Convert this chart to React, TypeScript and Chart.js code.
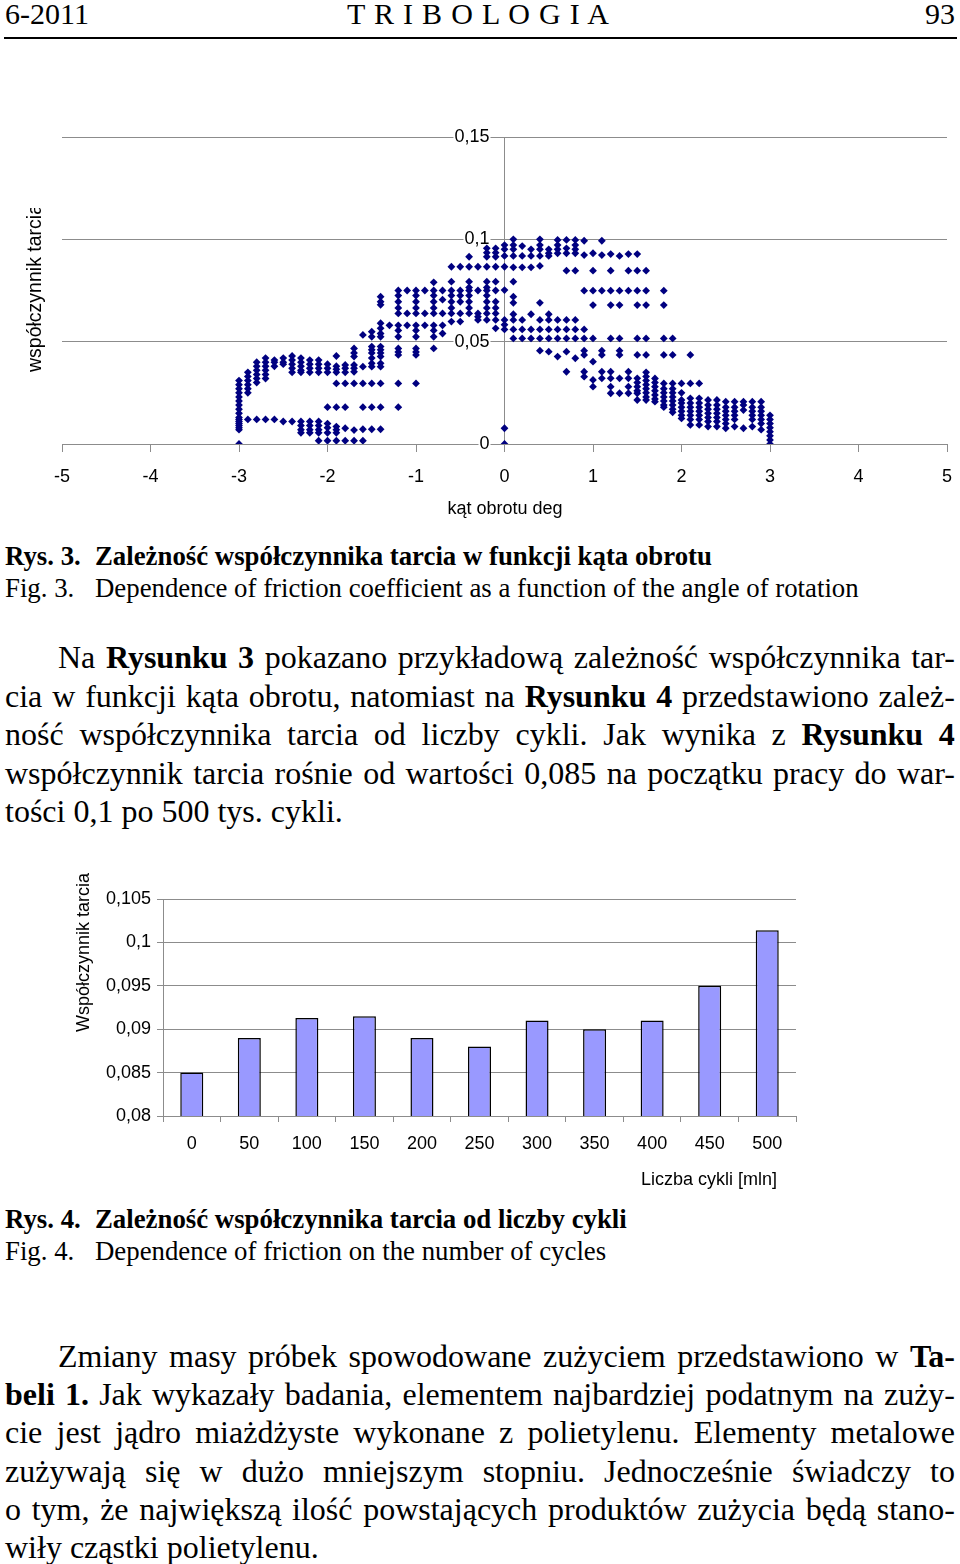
import React, { useEffect, useRef } from 'react';
import { Chart, registerables } from 'chart.js';

Chart.register(...registerables);

// ---------- Fig. 3 data: friction coefficient vs rotation angle (columns of points) ----------
const angleColumns = [
  -3.0, -2.9, -2.8, -2.7, -2.6, -2.5, -2.4, -2.3, -2.2, -2.1,
  -2.0, -1.9, -1.8, -1.7, -1.6, -1.5, -1.4, -1.3, -1.2, -1.1,
  -1.0, -0.9, -0.8, -0.7, -0.6, -0.5, -0.4, -0.3, -0.2, -0.1,
  0.0, 0.1, 0.2, 0.3, 0.4, 0.5, 0.6, 0.7, 0.8, 0.9,
  1.0, 1.1, 1.2, 1.3, 1.4, 1.5, 1.6, 1.7, 1.8, 1.9,
  2.0, 2.1, 2.2, 2.3, 2.4, 2.5, 2.6, 2.7, 2.8, 2.9, 3.0,
];

const frictionColumns = [
  [0.031, 0.029, 0.027, 0.025, 0.023, 0.021, 0.019, 0.017, 0.015, 0.013, 0.012, 0.011, 0.010, 0.009, 0.008, 0.007, 0.0],
  [0.035, 0.033, 0.031, 0.029, 0.027, 0.025, 0.012],
  [0.040, 0.038, 0.036, 0.034, 0.032, 0.030, 0.012],
  [0.042, 0.040, 0.038, 0.036, 0.034, 0.032, 0.012],
  [0.041, 0.040, 0.038, 0.012],
  [0.042, 0.040, 0.039, 0.011],
  [0.043, 0.041, 0.039, 0.037, 0.035, 0.011],
  [0.042, 0.040, 0.038, 0.036, 0.035, 0.011, 0.009, 0.007, 0.0055],
  [0.041, 0.039, 0.037, 0.035, 0.011, 0.009, 0.007, 0.0055],
  [0.041, 0.039, 0.037, 0.035, 0.011, 0.009, 0.007, 0.0055, 0.0016],
  [0.039, 0.037, 0.035, 0.018, 0.010, 0.008, 0.0055, 0.0016],
  [0.043, 0.038, 0.0365, 0.035, 0.0296, 0.018, 0.0085, 0.007, 0.0055, 0.0016],
  [0.0386, 0.037, 0.035, 0.0296, 0.018, 0.0077, 0.0016],
  [0.0467, 0.0445, 0.0427, 0.0386, 0.037, 0.0353, 0.0296, 0.0068, 0.0016],
  [0.0533, 0.0378, 0.0296, 0.018, 0.0072, 0.0016],
  [0.0549, 0.0524, 0.0476, 0.046, 0.0445, 0.042, 0.0394, 0.0378, 0.0296, 0.018, 0.0072],
  [0.072, 0.0695, 0.068, 0.059, 0.0565, 0.054, 0.0524, 0.0476, 0.046, 0.0445, 0.0427, 0.0394, 0.0378, 0.0296, 0.018, 0.0072],
  [0.058],
  [0.075, 0.0725, 0.0695, 0.0665, 0.0638, 0.058, 0.0555, 0.0524, 0.0467, 0.045, 0.0435, 0.0296, 0.018],
  [0.075, 0.0638, 0.058],
  [0.075, 0.0725, 0.0695, 0.0665, 0.0638, 0.058, 0.0555, 0.0524, 0.0467, 0.045, 0.0435, 0.0296],
  [0.075, 0.0638, 0.058],
  [0.079, 0.075, 0.0725, 0.0695, 0.0665, 0.0638, 0.058, 0.0555, 0.0524, 0.0467],
  [0.075, 0.0705, 0.0638, 0.058, 0.054],
  [0.0866, 0.0793, 0.075, 0.0725, 0.0695, 0.0665, 0.0638, 0.0598],
  [0.0866, 0.075, 0.0725, 0.0695, 0.0638, 0.0598],
  [0.0915, 0.0866, 0.0793, 0.0765, 0.075, 0.0725, 0.0695, 0.0665, 0.0638],
  [0.0866, 0.075, 0.0638, 0.0622, 0.0606],
  [0.0956, 0.0935, 0.0915, 0.0866, 0.0793, 0.0765, 0.075, 0.0725, 0.0695, 0.0665, 0.0638, 0.0606],
  [0.0956, 0.0935, 0.0915, 0.0866, 0.0793, 0.075, 0.0695, 0.0665, 0.0638, 0.0606, 0.0565],
  [0.0972, 0.0951, 0.0919, 0.0866, 0.0752, 0.0606, 0.0583, 0.056, 0.0077, 0.0],
  [0.1, 0.0972, 0.0951, 0.0919, 0.0863, 0.0793, 0.072, 0.069, 0.0634, 0.0606, 0.056, 0.0516],
  [0.0967, 0.0919, 0.0863, 0.0606, 0.056, 0.0516],
  [0.0951, 0.0919, 0.0863, 0.0634, 0.056, 0.0516],
  [0.1, 0.0972, 0.0951, 0.0919, 0.087, 0.069, 0.0606, 0.056, 0.0516, 0.0456],
  [0.0951, 0.0932, 0.0919, 0.0634, 0.0606, 0.056, 0.0516, 0.0451],
  [0.0997, 0.0972, 0.0951, 0.0932, 0.0606, 0.056, 0.0516, 0.0427],
  [0.0997, 0.0956, 0.0932, 0.0847, 0.0606, 0.056, 0.0516, 0.0451, 0.0353],
  [0.0997, 0.0972, 0.0951, 0.0932, 0.0847, 0.0606, 0.056, 0.0516, 0.0419],
  [0.0993, 0.0923, 0.0749, 0.056, 0.0516, 0.0456, 0.0435, 0.0353, 0.0329],
  [0.0932, 0.0847, 0.0749, 0.0679, 0.0516, 0.0402, 0.0313, 0.028],
  [0.0993, 0.0923, 0.0749, 0.0456, 0.0435, 0.0353, 0.0321],
  [0.0928, 0.0847, 0.0749, 0.0679, 0.0516, 0.0353, 0.0321, 0.028, 0.0248],
  [0.0919, 0.0749, 0.0679, 0.0516, 0.0456, 0.0435, 0.0321, 0.0248],
  [0.0928, 0.0847, 0.0749, 0.0353, 0.0321, 0.028, 0.0248],
  [0.0928, 0.0847, 0.0749, 0.0679, 0.0516, 0.0435, 0.0321, 0.030, 0.028, 0.026, 0.0248, 0.0215],
  [0.0847, 0.0749, 0.0679, 0.0516, 0.0435, 0.035, 0.033, 0.031, 0.029, 0.027, 0.025, 0.023, 0.0215],
  [0.032, 0.030, 0.028, 0.026, 0.024, 0.022, 0.0207],
  [0.0749, 0.0679, 0.0516, 0.0435, 0.0296, 0.027, 0.025, 0.023, 0.021, 0.019, 0.018],
  [0.0516, 0.0435, 0.0296, 0.027, 0.025, 0.023, 0.021, 0.019, 0.017, 0.0155],
  [0.0296, 0.025, 0.0215, 0.020, 0.018, 0.016, 0.014, 0.0125],
  [0.0435, 0.0296, 0.0223, 0.020, 0.018, 0.016, 0.014, 0.012, 0.0093],
  [0.0296, 0.0223, 0.020, 0.018, 0.016, 0.014, 0.012, 0.0093],
  [0.0215, 0.019, 0.017, 0.015, 0.013, 0.011, 0.0085],
  [0.0215, 0.019, 0.017, 0.015, 0.013, 0.011, 0.0085],
  [0.0207, 0.018, 0.016, 0.014, 0.012, 0.010, 0.0077],
  [0.0207, 0.018, 0.016, 0.014, 0.012, 0.0085],
  [0.0207, 0.019, 0.0166, 0.0077],
  [0.0207, 0.018, 0.016, 0.014, 0.012, 0.0085],
  [0.0207, 0.018, 0.016, 0.014, 0.012, 0.010, 0.007],
  [0.014, 0.012, 0.010, 0.008, 0.006, 0.004, 0.002, 0.0],
];

const angleAxisRange = [-5, 5];
const angleTickStep = 1;
const frictionAxisRange = [0, 0.15];
const frictionTickStep = 0.05;

// ---------- Fig. 4 data: friction coefficient vs number of cycles ----------
const cycleCategories = ['0', '50', '100', '150', '200', '250', '300', '350', '400', '450', '500'];
const frictionByCycles = [0.085, 0.089, 0.0913, 0.0915, 0.089, 0.088, 0.091, 0.090, 0.091, 0.095, 0.1014];
const barAxisRange = [0.08, 0.105];
const barTickStep = 0.005;

// ---------- text ----------
const paragraph1 = [
  'Na **Rysunku** **3** pokazano przykładową zależność współczynnika tar-',
  'cia w funkcji kąta obrotu, natomiast na **Rysunku** **4** przedstawiono zależ-',
  'ność współczynnika tarcia od liczby cykli. Jak wynika z **Rysunku** **4**',
  'współczynnik tarcia rośnie od wartości 0,085 na początku pracy do war-',
  'tości 0,1 po 500 tys. cykli.',
];
const paragraph2 = [
  'Zmiany masy próbek spowodowane zużyciem przedstawiono w **Ta-**',
  '**beli** **1.** Jak wykazały badania, elementem najbardziej podatnym na zuży-',
  'cie jest jądro miażdżyste wykonane z polietylenu. Elementy metalowe',
  'zużywają się w dużo mniejszym stopniu. Jednocześnie świadczy to',
  'o tym, że największą ilość powstających produktów zużycia będą stano-',
  'wiły cząstki polietylenu.',
];

const SERIF = '"Liberation Serif", "Times New Roman", Times, serif';
const SANS = '"Liberation Sans", Arial, Helvetica, sans-serif';
const GRID = '#8c8c8c';

const fmtComma = (v: number) => String(Math.round(Number(v) * 1000) / 1000).replace('.', ',');

function ScatterChart() {
  const ref = useRef<HTMLCanvasElement>(null);
  useEffect(() => {
    const points: { x: number; y: number }[] = [];
    angleColumns.forEach((x, i) => {
      frictionColumns[i].forEach((y) => points.push({ x, y }));
    });
    const chart = new Chart(ref.current as HTMLCanvasElement, {
      type: 'scatter',
      data: {
        datasets: [
          {
            data: points,
            pointStyle: 'rectRot',
            pointRadius: 3.9,
            backgroundColor: '#000080',
            borderColor: '#000080',
            borderWidth: 0,
          },
        ],
      },
      options: {
        animation: false,
        responsive: false,
        devicePixelRatio: 1,
        layout: { padding: { left: 62, right: 13, top: 27, bottom: 66 } },
        plugins: { legend: { display: false }, tooltip: { enabled: false } },
        scales: {
          x: {
            type: 'linear',
            min: angleAxisRange[0],
            max: angleAxisRange[1],
            position: { y: 0 } as any,
            ticks: {
              stepSize: angleTickStep,
              color: '#000',
              font: { family: SANS, size: 18 },
              padding: 15,
              maxRotation: 0,
              autoSkip: false,
              callback: (v: any) => String(v),
            },
            grid: { drawOnChartArea: false, drawTicks: true, tickLength: 7, color: GRID },
            border: { display: true, color: GRID },
            afterFit: (s: any) => {
              s.paddingLeft = 0;
              s.paddingRight = 0;
            },
          },
          y: {
            type: 'linear',
            min: frictionAxisRange[0],
            max: frictionAxisRange[1],
            position: { x: 0 } as any,
            ticks: {
              stepSize: frictionTickStep,
              color: '#000',
              font: { family: SANS, size: 18 },
              callback: (v: any) => fmtComma(v) + '   ',
              showLabelBackdrop: true,
              backdropColor: '#ffffff',
              backdropPadding: { top: 0, bottom: 0, left: 1, right: -14 } as any,
            },
            grid: { color: GRID, tickLength: 6 },
            border: { display: true, color: GRID },
          },
        },
      },
    });
    return () => chart.destroy();
  }, []);
  return <canvas ref={ref} width={960} height={400} style={{ position: 'absolute', left: 0, top: 110 }} />;
}

function BarChart() {
  const ref = useRef<HTMLCanvasElement>(null);
  useEffect(() => {
    const chart = new Chart(ref.current as HTMLCanvasElement, {
      type: 'bar',
      data: {
        labels: cycleCategories,
        datasets: [
          {
            data: frictionByCycles,
            backgroundColor: '#9999ff',
            borderColor: '#000000',
            borderWidth: 1.5,
            borderSkipped: false,
            barPercentage: 0.5,
            categoryPercentage: 0.8,
          },
        ],
      },
      options: {
        animation: false,
        responsive: false,
        devicePixelRatio: 1,
        layout: { padding: { left: 0, right: 164, top: 29, bottom: 0 } },
        plugins: { legend: { display: false }, tooltip: { enabled: false } },
        scales: {
          x: {
            grid: { offset: true, drawOnChartArea: false, drawTicks: true, tickLength: 6, color: GRID },
            border: { display: true, color: GRID },
            ticks: { color: '#000', font: { family: SANS, size: 18 }, padding: 11, maxRotation: 0, autoSkip: false },
            afterFit: (s: any) => {
              s.height = 54;
            },
          },
          y: {
            min: barAxisRange[0],
            max: barAxisRange[1],
            ticks: {
              stepSize: barTickStep,
              color: '#000',
              font: { family: SANS, size: 18 },
              padding: 6,
              callback: (v: any) => fmtComma(v),
            },
            grid: { color: GRID, tickLength: 6 },
            border: { display: true, color: GRID },
            afterFit: (s: any) => {
              s.width = 163;
            },
          },
        },
      },
    });
    return () => chart.destroy();
  }, []);
  return <canvas ref={ref} width={960} height={300} style={{ position: 'absolute', left: 0, top: 870 }} />;
}

function parseWords(line: string) {
  return line.split(' ').map((w) => {
    const bold = w.startsWith('**') && w.endsWith('**');
    return { text: bold ? w.slice(2, -2) : w, bold };
  });
}

function TextLine({ line, y, indent, justify }: { line: string; y: number; indent: number; justify: boolean }) {
  const words = parseWords(line);
  const base: React.CSSProperties = {
    position: 'absolute',
    left: 5 + indent,
    top: y - 19,
    height: 38,
    lineHeight: '38px',
    fontSize: 32,
    fontFamily: SERIF,
    color: '#000',
    whiteSpace: 'nowrap',
  };
  if (justify) {
    return (
      <div style={{ ...base, width: 950 - indent, display: 'flex', justifyContent: 'space-between' }}>
        {words.map((w, i) => (
          <span key={i} style={{ fontWeight: w.bold ? 700 : 400 }}>
            {w.text}
          </span>
        ))}
      </div>
    );
  }
  return (
    <div style={base}>
      {words.map((w, i) => (
        <React.Fragment key={i}>
          {i > 0 ? ' ' : ''}
          <span style={{ fontWeight: w.bold ? 700 : 400 }}>{w.text}</span>
        </React.Fragment>
      ))}
    </div>
  );
}

function Paragraph({ lines, y0, step }: { lines: string[]; y0: number; step: number }) {
  return (
    <>
      {lines.map((l, i) => (
        <TextLine key={i} line={l} y={y0 + i * step} indent={i === 0 ? 53 : 0} justify={i < lines.length - 1} />
      ))}
    </>
  );
}

function Caption({ y, label, text, bold }: { y: number; label: string; text: string; bold: boolean }) {
  const st: React.CSSProperties = {
    position: 'absolute',
    top: y - 16,
    height: 32,
    lineHeight: '32px',
    fontSize: 26.8,
    fontFamily: SERIF,
    fontWeight: bold ? 700 : 400,
    whiteSpace: 'nowrap',
    color: '#000',
  };
  return (
    <>
      <div style={{ ...st, left: 5 }}>{label}</div>
      <div style={{ ...st, left: 95 }}>{text}</div>
    </>
  );
}

export default function App() {
  const sansText: React.CSSProperties = {
    position: 'absolute',
    fontFamily: SANS,
    fontSize: 18,
    lineHeight: '20px',
    whiteSpace: 'nowrap',
    color: '#000',
  };
  return (
    <div
      style={{
        position: 'absolute',
        left: 0,
        top: 0,
        width: 960,
        height: 1564,
        background: '#fff',
        overflow: 'hidden',
      }}
    >
      {/* header */}
      <div style={{ position: 'absolute', left: 5, top: -4, fontFamily: SERIF, fontSize: 30, lineHeight: '36px' }}>6-2011</div>
      <div
        style={{
          position: 'absolute',
          left: 347,
          top: -4,
          fontFamily: SERIF,
          fontSize: 30,
          lineHeight: '36px',
          letterSpacing: '0.8px',
          whiteSpace: 'pre',
        }}
      >
        T R I B O L O G I A
      </div>
      <div style={{ position: 'absolute', right: 5, top: -4, fontFamily: SERIF, fontSize: 30, lineHeight: '36px' }}>93</div>
      <div style={{ position: 'absolute', left: 4, top: 37, width: 953, height: 2, background: '#000' }} />

      {/* Fig. 3 */}
      <ScatterChart />
      <div style={{ position: 'absolute', left: 0, top: 208, width: 60, height: 170, overflow: 'hidden' }}>
        <div
          style={{
            ...sansText,
            fontSize: 19.5,
            left: 24,
            top: 164,
            transformOrigin: '0 0',
            transform: 'rotate(-90deg)',
          }}
        >
          współczynnik tarcia
        </div>
      </div>
      <div style={{ ...sansText, left: 505, top: 498, transform: 'translateX(-50%)' }}>kąt obrotu deg</div>

      <Caption y={556} label="Rys. 3." text="Zależność współczynnika tarcia w funkcji kąta obrotu" bold={true} />
      <Caption y={588} label="Fig. 3." text="Dependence of friction coefficient as a function of the angle of rotation" bold={false} />

      <Paragraph lines={paragraph1} y0={657} step={38.5} />

      {/* Fig. 4 */}
      <BarChart />
      <div
        style={{
          ...sansText,
          left: 73,
          top: 1032,
          transformOrigin: '0 0',
          transform: 'rotate(-90deg)',
        }}
      >
        Współczynnik tarcia
      </div>
      <div style={{ ...sansText, left: 641, top: 1169 }}>Liczba cykli [mln]</div>

      <Caption y={1219} label="Rys. 4." text="Zależność współczynnika tarcia od liczby cykli" bold={true} />
      <Caption y={1251} label="Fig. 4." text="Dependence of friction on the number of cycles" bold={false} />

      <Paragraph lines={paragraph2} y0={1356} step={38.2} />
    </div>
  );
}
